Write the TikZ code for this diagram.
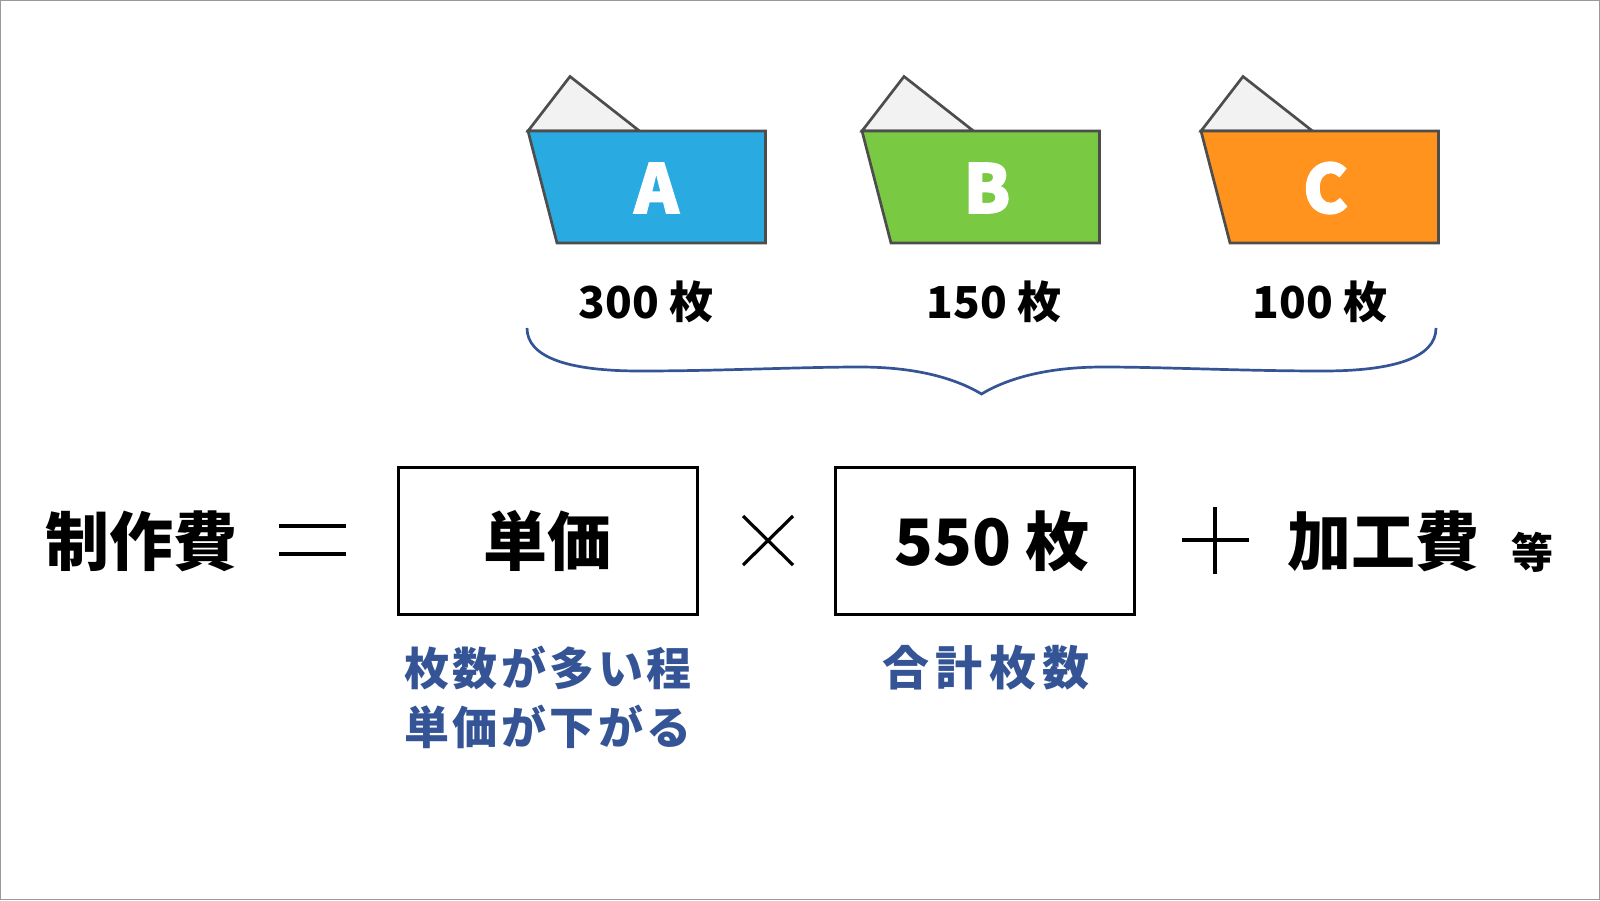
\documentclass[tikz,border=0pt]{standalone}
\usepackage{fontspec}
\setmainfont{Noto Sans CJK JP}
\newfontfamily\spacedfont[LetterSpace=8]{Noto Sans CJK JP}
\newfontfamily\widefont[LetterSpace=13]{Noto Sans CJK JP}
\newfontfamily\heavyfont[BoldFeatures={FakeBold=2.5}]{Noto Sans CJK JP}
\definecolor{inkblue}{HTML}{345496}
\definecolor{edgegray}{HTML}{4D4D4D}
\definecolor{tabgray}{HTML}{F2F2F2}
\definecolor{folderA}{HTML}{29ABE2}
\definecolor{folderB}{HTML}{7AC943}
\definecolor{folderC}{HTML}{FF931E}
\tikzset{
  folder/.style={draw=edgegray, line width=2.7pt, line join=miter},
  letter/.style={text=white, font=\fontsize{67}{70}\heavyfont\bfseries, inner sep=0pt},
  count/.style={font=\fontsize{44}{50}\selectfont\bfseries, inner sep=0pt},
  term/.style={font=\fontsize{64}{70}\selectfont\bfseries, inner sep=0pt},
  termbox/.style={draw, line width=3pt, minimum width=299pt, minimum height=147pt, inner sep=0pt},
  note/.style={text=inkblue, font=\fontsize{45}{59.5}\selectfont\bfseries, inner sep=0pt, align=center},
  sign/.style={line width=3.2pt}
}
\begin{document}
\begin{tikzpicture}[x=1pt, y=-1pt]
    \useasboundingbox (0,0) rectangle (1600,900);
    \draw[gray!80, line width=1.5pt] (0.5,0.5) rectangle (1599.5,899.5);

    % Folders
    \draw[folder, fill=tabgray] (528,131) -- (570,76.5) -- (639.5,131) -- cycle;
    \draw[folder, fill=folderA] (528,131) -- (765.5,131) -- (765.5,243) -- (557,243) -- cycle;
    \draw[folder, fill=tabgray] (862,131) -- (904,76.5) -- (973.5,131) -- cycle;
    \draw[folder, fill=folderB] (862,131) -- (1099.5,131) -- (1099.5,243) -- (891,243) -- cycle;
    \draw[folder, fill=tabgray] (1201,131) -- (1243,76.5) -- (1312.5,131) -- cycle;
    \draw[folder, fill=folderC] (1201,131) -- (1438.5,131) -- (1438.5,243) -- (1230,243) -- cycle;
    \node[letter] (letterA) at (656.5,188) {A};
    \node[letter] (letterB) at (987,188) {B};
    \node[letter] (letterC) at (1325.5,188) {C};

    % Counts
    \node[count] (countA) at (646,302) {300 枚};
    \node[count] (countB) at (994,302) {150 枚};
    \node[count] (countC) at (1320,302) {100 枚};

    % Brace
    \coordinate (braceL) at (527,328);
    \coordinate (braceTip) at (981.5,394);
    \coordinate (braceR) at (1436,328);
    \draw[inkblue, line width=2.7pt] (braceL) .. controls (527,358) and (570,371) .. (640,371)
      .. controls (720,371) and (800,367) .. (860,367)
      .. controls (915,367) and (955,378) .. (braceTip)
      .. controls (1008,378) and (1048,367) .. (1103,367)
      .. controls (1163,367) and (1243,371) .. (1323,371)
      .. controls (1393,371) and (1436,358) .. (braceR);

    % Formula
    \node[term] (cost) at (141,541) {制作費};
    \draw[sign] (279,526) -- (346,526);
    \draw[sign] (279,554) -- (346,554);
    \node[termbox] (unitbox) at (547.5,541) {};
    \node[term] (unit) at (547,541) {単価};
    \draw[sign] (743,516) -- (793,565);
    \draw[sign] (793,516) -- (743,565);
    \node[termbox] (totalbox) at (985,541) {};
    \node[term] (total) at (992,541) {550 枚};
    \draw[sign] (1182,540) -- (1249,540);
    \draw[sign] (1215,507) -- (1215,574);
    \node[term] (extra) at (1383,541) {加工費};
    \node[font=\fontsize{42}{46}\selectfont\bfseries, inner sep=0pt] (etc) at (1532,552) {等};

    % Notes
    \node[note] (unitnote) at (548,697.5) {\spacedfont 枚数が多い程\\\spacedfont 単価が下がる};
    \node[note, font=\fontsize{47}{59.5}\selectfont\bfseries] (totalnote) at (986,667.5) {\widefont 合計枚数};
\end{tikzpicture}
\end{document}
